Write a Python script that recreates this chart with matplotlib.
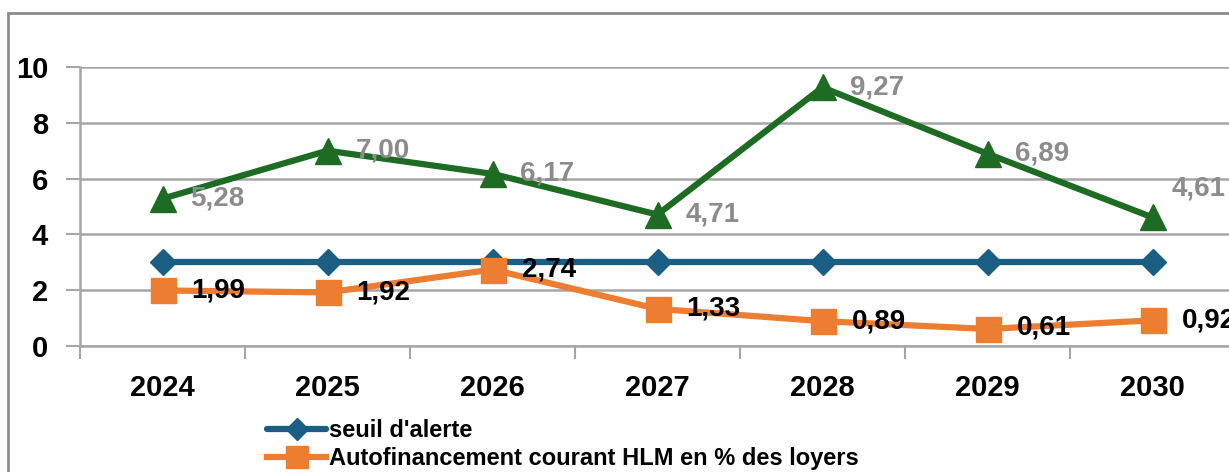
import matplotlib.pyplot as plt
from matplotlib.patches import Rectangle

annees = ['2024', '2025', '2026', '2027', '2028', '2029', '2030']
seuil = [3, 3, 3, 3, 3, 3, 3]
autofin = [1.99, 1.92, 2.74, 1.33, 0.89, 0.61, 0.92]
vert = [5.28, 7.00, 6.17, 4.71, 9.27, 6.89, 4.61]

plt.rcParams['font.family'] = ['Liberation Sans', 'DejaVu Sans']

fig = plt.figure(figsize=(12.29, 4.72), dpi=100)
ax = fig.add_axes([80 / 1229, 1 - 346 / 472, 1155 / 1229, 279 / 472])

gris = '#A6A6A6'
x = list(range(len(annees)))

ax.plot(x, seuil, color='#1B5E84', lw=4.5, marker='D', ms=13,
        label="seuil d'alerte", solid_capstyle='round', zorder=3)
ax.plot(x, autofin, color='#ED7D31', lw=4.5, marker='s', ms=18,
        label='Autofinancement courant HLM en % des loyers', zorder=3)
ax.plot(x, vert, color='#1E6B23', lw=4.5, marker='^', ms=19,
        label='Autofinancement net HLM en % des loyers', zorder=3)

fmt = lambda v: f'{v:.2f}'.replace('.', ',')

# étiquettes de la série verte
for i, v in enumerate(vert):
    dx, dy = 20, 0
    if i == 6:
        dx, dy = 14, 21
    ax.annotate(fmt(v), (i, v), xytext=(dx, dy), textcoords='offset points',
                ha='left', va='center', fontsize=20, fontweight='bold',
                color='#8C8C8C', annotation_clip=False)

# étiquettes de la série orange
for i, v in enumerate(autofin):
    dy = 0
    if i == 5:
        dy = 1
    ax.annotate(fmt(v), (i, v), xytext=(21, dy), textcoords='offset points',
                ha='left', va='center', fontsize=20, fontweight='bold',
                color='black', annotation_clip=False)

ax.set_xlim(-0.5, 6.5)
ax.set_ylim(0, 10)
ax.set_yticks([0, 2, 4, 6, 8, 10])
ax.set_xticks(x)
ax.set_xticklabels(annees)
ax.set_xticks([i + 0.5 for i in range(-1, 7)], minor=True)
ax.tick_params(axis='x', which='major', length=0, pad=20, labelsize=21)
ax.tick_params(axis='x', which='minor', length=9, width=1.5, color=gris, direction='out')
ax.tick_params(axis='y', length=10, width=1.5, color=gris, labelsize=21, pad=13)
for lab in ax.get_xticklabels() + ax.get_yticklabels():
    lab.set_fontweight('bold')

ax.grid(axis='y', color=gris, lw=1.8)
ax.set_axisbelow(True)
for s in ['top', 'right']:
    ax.spines[s].set_visible(False)
ax.spines['left'].set_color(gris)
ax.spines['left'].set_linewidth(1.8)
ax.spines['bottom'].set_color(gris)
ax.spines['bottom'].set_linewidth(1.8)

leg = fig.legend(loc='upper left', bbox_to_anchor=(258 / 1229, 1 - 410 / 472),
                 frameon=False, fontsize=17, handlelength=2.5, handletextpad=0.1,
                 labelspacing=0.2, borderaxespad=0, markerscale=0.85)
for t in leg.get_texts():
    t.set_fontweight('bold')

# cadre du graphique
fig.patches.append(Rectangle((8 / 1229, -0.2), 1.2, 1 - 13 / 472 + 0.2,
                             transform=fig.transFigure, fill=False,
                             edgecolor='#8C8C8C', lw=2, clip_on=False))

fig.savefig('out.png', dpi=100)
